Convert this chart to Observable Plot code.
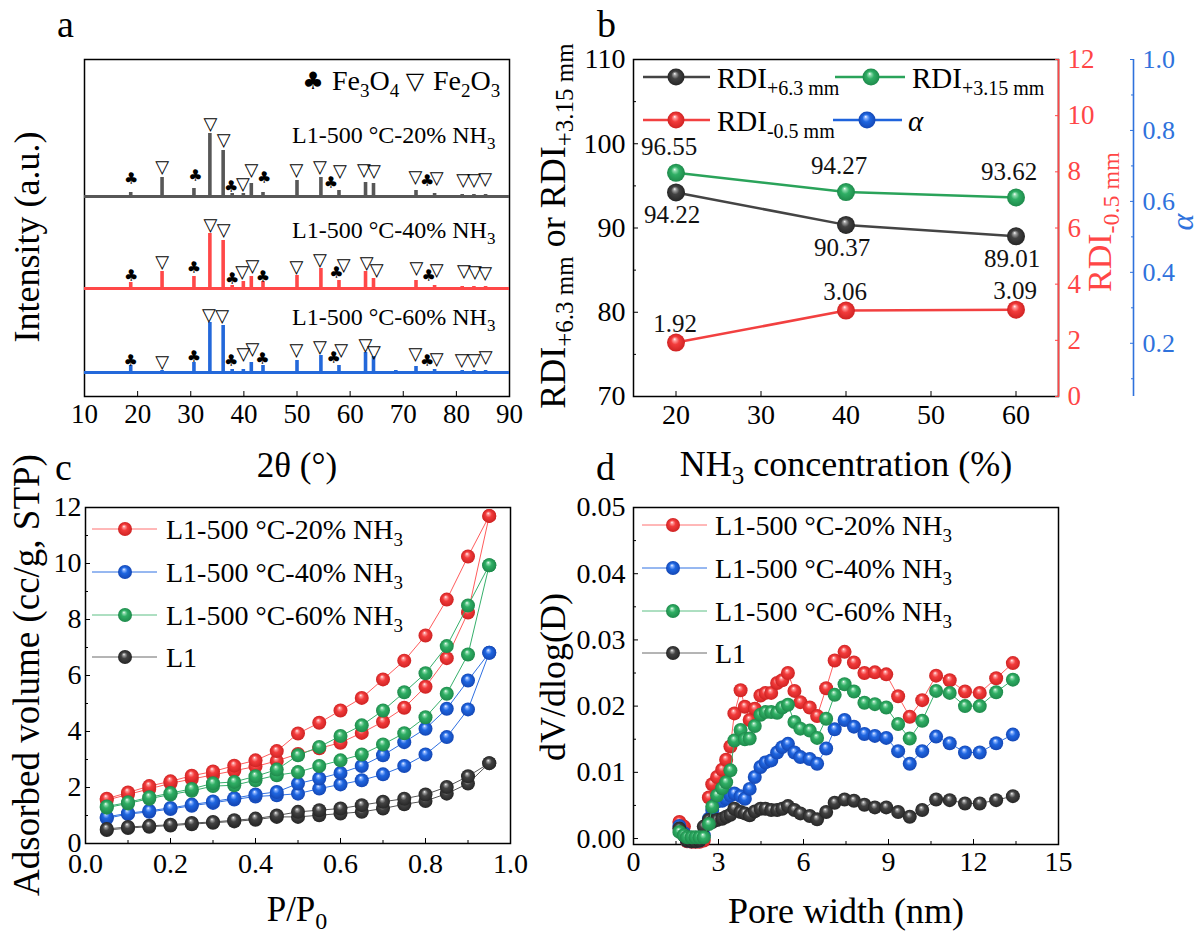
<!DOCTYPE html>
<html>
<head>
<meta charset="utf-8">
<script src="https://cdn.jsdelivr.net/npm/d3@7"></script>
<script src="https://cdn.jsdelivr.net/npm/@observablehq/plot@0.6"></script>
<style>
  html, body { margin: 0; padding: 0; background: #fff; }
  #fig { position: relative; width: 1199px; height: 938px; overflow: hidden; background: #fff; }
</style>
</head>
<body>
<div id="fig"></div>
<script>
// ================= DATA =================
// (a) XRD patterns (stacked, arbitrary units)
const xrdPeak2theta = [18.7, 24.6, 30.6, 33.6, 36.1, 37.8, 39.9, 41.4, 43.6, 50.0, 54.5, 57.9, 62.9, 64.4, 68.6, 72.4, 75.9, 81.1, 83.3, 85.5];
const xrd20Height = [4, 19, 8, 63, 46, 3, 3, 13, 4, 16, 19, 6, 14, 13, 1, 6, 3, 2, 2, 2];
const xrd40Height = [6, 17, 12, 55, 48, 3, 7, 12, 7, 13, 20, 8, 17, 10, 1, 8, 3, 2, 2, 2];
const xrd60Height = [7, 2, 10, 50, 47, 3, 3, 10, 7, 12, 17, 7, 20, 16, 2, 6, 3, 2, 2, 2];
const xrdBaseline = [200, 108, 24];
const xrdSampleNames = ["20", "40", "60"];
const phaseSymbols = ["♣","▽","♣","▽","▽","♣","▽","▽","♣","▽","▽","♣","▽","▽","▽","▽","♣","▽","▽","▽","▽"];
const phase20X = [18.8, 24.6, 30.9, 33.7, 36.2, 37.6, 39.8, 41.4, 43.8, 49.9, 54.3, 56.4, 58.1, 62.6, 64.5, 72.3, 74.5, 76.3, 81.3, 83.3, 85.4];
const phase20Y = [217.7, 229.3, 221, 272, 256, 210, 212.7, 226, 218.7, 226, 229.3, 213.3, 225.3, 226, 225.3, 219.3, 216, 218.7, 216.7, 216.7, 217.7];
const phase40X = [18.8, 24.6, 30.6, 33.7, 36.2, 37.8, 39.7, 41.6, 43.6, 49.9, 54.3, 57.4, 58.8, 63.1, 65.0, 72.5, 74.8, 76.3, 81.4, 83.5, 85.4];
const phase40Y = [121, 134.3, 128.7, 171, 166, 117.7, 124.3, 130, 120, 129.3, 136.7, 123.3, 131.7, 133.3, 126.7, 128.7, 121, 126, 125.3, 124.3, 123.3];
const phase60X = [18.7, 24.6, 30.6, 33.4, 35.9, 37.6, 39.9, 41.6, 43.5, 49.9, 54.3, 56.9, 58.3, 62.9, 64.5, 72.3, 74.5, 76.3, 81.0, 83.3, 85.5];
const phase60Y = [36, 34.3, 39.3, 81, 80, 36, 42, 47.7, 37.7, 46.7, 49.3, 38.7, 46, 51, 44.3, 42, 36, 37.7, 36, 36, 39.3];
const xrdTicks = [10, 20, 30, 40, 50, 60, 70, 80, 90];

// (b) RDI vs NH3 concentration
const nh3Conc = [20, 40, 60];
const rdiPlus63 = [94.22, 90.37, 89.01];
const rdiPlus315 = [96.55, 94.27, 93.62];
const rdiMinus05 = [1.92, 3.06, 3.09];
const bXTicks = [20, 30, 40, 50, 60];
const bLeftTicks = [70, 80, 90, 100, 110];
const bLeftMinor = [75, 85, 95, 105];
const bRedTicks = [0, 2, 4, 6, 8, 10, 12];
const bAlphaTicks = [0.2, 0.4, 0.6, 0.8, 1.0];
const bAlphaMinor = [0.1, 0.3, 0.5, 0.7, 0.9];

// (c) N2 adsorption isotherms
const relPressure = [0.05, 0.10, 0.15, 0.20, 0.25, 0.30, 0.35, 0.40, 0.45, 0.50, 0.55, 0.60, 0.65, 0.70, 0.75, 0.80, 0.85, 0.90, 0.95];
const ads20 = [1.55, 1.75, 1.95, 2.15, 2.30, 2.45, 2.60, 2.75, 2.95, 3.20, 3.40, 3.60, 3.95, 4.35, 4.85, 5.60, 6.62, 8.25, 11.70];
const des20 = [1.60, 1.82, 2.05, 2.22, 2.42, 2.57, 2.78, 2.97, 3.30, 3.93, 4.31, 4.75, 5.20, 5.86, 6.53, 7.43, 8.71, 10.25, 11.70];
const ads40 = [0.90, 1.05, 1.13, 1.23, 1.35, 1.45, 1.57, 1.68, 1.72, 1.78, 1.96, 2.11, 2.26, 2.47, 2.77, 3.18, 3.80, 4.79, 6.81];
const des40 = [0.95, 1.08, 1.17, 1.27, 1.39, 1.50, 1.62, 1.75, 1.84, 2.14, 2.32, 2.52, 2.77, 3.15, 3.62, 4.10, 4.81, 5.82, 6.81];
const ads60 = [1.28, 1.43, 1.60, 1.75, 1.88, 2.05, 2.08, 2.26, 2.44, 2.55, 2.77, 2.97, 3.18, 3.54, 3.94, 4.51, 5.35, 6.75, 9.94];
const des60 = [1.32, 1.47, 1.65, 1.80, 1.95, 2.15, 2.20, 2.40, 2.64, 3.15, 3.45, 3.84, 4.22, 4.75, 5.40, 6.08, 7.05, 8.50, 9.94];
const adsL1 = [0.48, 0.55, 0.60, 0.64, 0.69, 0.74, 0.79, 0.85, 0.95, 0.95, 1.01, 1.07, 1.13, 1.25, 1.40, 1.52, 1.78, 2.14, 2.87];
const desL1 = [0.52, 0.59, 0.63, 0.67, 0.73, 0.77, 0.83, 0.89, 1.00, 1.13, 1.19, 1.25, 1.37, 1.49, 1.60, 1.75, 2.02, 2.40, 2.87];
const cXTicks = [0, 0.2, 0.4, 0.6, 0.8, 1.0];
const cXMinor = [0.1, 0.3, 0.5, 0.7, 0.9];
const cYTicks = [0, 2, 4, 6, 8, 10, 12];
const cYMinor = [1, 3, 5, 7, 9, 11];

// (d) pore size distribution
const poreWidth = [1.62, 1.78, 1.89, 2.05, 2.19, 2.33, 2.48, 2.66, 2.78, 2.95, 3.13, 3.27, 3.42, 3.56, 3.78, 3.93, 4.10, 4.28, 4.48, 4.66, 4.86, 5.07, 5.25, 5.45, 5.68, 5.89, 6.22, 6.48, 6.80, 7.10, 7.45, 7.78, 8.15, 8.52, 8.92, 9.34, 9.75, 10.19, 10.68, 11.16, 11.70, 12.22, 12.80, 13.39];
const psd20 = [0.0025, 0.0018, -0.0004, -0.0005, -0.0005, -0.0005, -0.0003, 0.0062, 0.0082, 0.0093, 0.0104, 0.0119, 0.0139, 0.0189, 0.0224, 0.0199, 0.0179, 0.0196, 0.0216, 0.0220, 0.0220, 0.0235, 0.0239, 0.0250, 0.0223, 0.0206, 0.0198, 0.0185, 0.0227, 0.0269, 0.0282, 0.0266, 0.0250, 0.0251, 0.0248, 0.0215, 0.0184, 0.0209, 0.0246, 0.0239, 0.0222, 0.0220, 0.0242, 0.0265];
const psd40 = [0.0019, 0.0008, -0.0003, -0.0004, -0.0004, -0.0003, 0.0005, 0.0030, 0.0043, 0.0056, 0.0057, 0.0060, 0.0065, 0.0068, 0.0064, 0.0060, 0.0075, 0.0093, 0.0108, 0.0115, 0.0118, 0.0130, 0.0138, 0.0143, 0.0130, 0.0123, 0.0120, 0.0113, 0.0136, 0.0165, 0.0179, 0.0169, 0.0158, 0.0155, 0.0152, 0.0132, 0.0113, 0.0132, 0.0154, 0.0144, 0.0130, 0.0130, 0.0144, 0.0157];
const psd60 = [0.0010, 0.0005, 0.0002, 0.0002, 0.0002, 0.0002, 0.0002, 0.0022, 0.0048, 0.0065, 0.0076, 0.0085, 0.0103, 0.0148, 0.0164, 0.0150, 0.0151, 0.0170, 0.0187, 0.0191, 0.0191, 0.0190, 0.0198, 0.0202, 0.0176, 0.0166, 0.0163, 0.0152, 0.0181, 0.0217, 0.0233, 0.0222, 0.0205, 0.0203, 0.0198, 0.0173, 0.0151, 0.0178, 0.0223, 0.0220, 0.0200, 0.0200, 0.0221, 0.0240];
const psdL1 = [0.0015, 0.0005, -0.0003, -0.0004, -0.0004, -0.0003, 0.0018, 0.0028, 0.0025, 0.0028, 0.0030, 0.0033, 0.0036, 0.0045, 0.0040, 0.0038, 0.0035, 0.0041, 0.0045, 0.0045, 0.0043, 0.0043, 0.0045, 0.0049, 0.0043, 0.0038, 0.0034, 0.0029, 0.0040, 0.0054, 0.0059, 0.0057, 0.0051, 0.0047, 0.0047, 0.0040, 0.0033, 0.0043, 0.0059, 0.0058, 0.0053, 0.0053, 0.0058, 0.0064];
const dXTicks = [0, 3, 6, 9, 12, 15];
const dXMinor = [1.5, 4.5, 7.5, 10.5, 13.5];
const dYTicks = [0, 0.01, 0.02, 0.03, 0.04, 0.05];
const dYMinor = [0.005, 0.015, 0.025, 0.035, 0.045];

// ================= STYLE =================
const F = '"Liberation Serif","Times New Roman",serif';
const SYM = '"DejaVu Sans",sans-serif';
const RED_AX = "#ff4646", BLUE_AX = "#2f72dc";
const fig = document.getElementById("fig");

// sphere gradients
const defs = d3.select(fig).append("svg").attr("width", 0).attr("height", 0)
  .style("position", "absolute").append("defs");
function ballGrad(id, hi, mid, edge) {
  const g = defs.append("radialGradient").attr("id", id)
    .attr("cx", "50%").attr("cy", "50%").attr("r", "50%").attr("fx", "42%").attr("fy", "30%");
  g.append("stop").attr("offset", "0%").attr("stop-color", "#ffffff");
  g.append("stop").attr("offset", "16%").attr("stop-color", hi);
  g.append("stop").attr("offset", "45%").attr("stop-color", mid);
  g.append("stop").attr("offset", "100%").attr("stop-color", edge);
}
ballGrad("ball-red", "#ff9a9a", "#f23b3b", "#cf2323");
ballGrad("ball-green", "#8fdcae", "#2fae64", "#1e8a4b");
ballGrad("ball-blue", "#8ab3ff", "#1f66e0", "#1447b5");
ballGrad("ball-dark", "#a0a0a0", "#424242", "#262626");

function mount(svg, left, top) {
  svg.style.position = "absolute";
  svg.style.left = left + "px";
  svg.style.top = top + "px";
  svg.style.maxWidth = "none";
  svg.style.background = "transparent";
  svg.style.overflow = "visible";
  fig.appendChild(svg);
}
const baseStyle = {fontFamily: F, fontSize: "27px", color: "#000", background: "transparent", overflow: "visible"};

// ================= PANEL A =================
{
  const series = [
    {h: xrd20Height, base: xrdBaseline[0], color: "#575757", mx: phase20X, my: phase20Y},
    {h: xrd40Height, base: xrdBaseline[1], color: "#ff4848", mx: phase40X, my: phase40Y},
    {h: xrd60Height, base: xrdBaseline[2], color: "#2368da", mx: phase60X, my: phase60Y}
  ];
  const marks = [Plot.frame({stroke: "#000", strokeWidth: 1.5})];
  for (const s of series) {
    marks.push(Plot.ruleY([s.base], {stroke: s.color, strokeWidth: 3}));
    marks.push(Plot.ruleX(xrdPeak2theta.map((x, i) => ({x, y1: s.base, y2: s.base + s.h[i]})),
      {x: "x", y1: "y1", y2: "y2", stroke: s.color, strokeWidth: 3.6}));
  }
  for (const s of series) {
    marks.push(Plot.text(phaseSymbols.map((t, i) => ({t, x: s.mx[i], y: s.my[i]})),
      {x: "x", y: "y", text: "t", fontFamily: SYM, fontSize: d => d.t === "▽" ? 18 : 16, fill: "#000", lineAnchor: "middle"}));
  }
  marks.push(Plot.axisX({ticks: xrdTicks, tickSize: -5, tickPadding: 12, label: null, fontSize: 27, tickFormat: d => String(d)}));
  const svg = Plot.plot({
    width: 540, height: 440, marginLeft: 84, marginRight: 31, marginTop: 59, marginBottom: 44,
    x: {domain: [10, 90], label: null},
    y: {domain: [0, 337], label: null, axis: null},
    style: baseStyle,
    marks
  });
  mount(svg, 0, 0);
}

// ================= PANEL B =================
{
  const r2l = d3.scaleLinear([0, 12], [70, 110]);
  const a2l = d3.scaleLinear([0.05, 1], [70, 110]);
  const black = nh3Conc.map((c, i) => ({c, v: rdiPlus63[i], t: rdiPlus63[i].toFixed(2)}));
  const green = nh3Conc.map((c, i) => ({c, v: rdiPlus315[i], t: rdiPlus315[i].toFixed(2)}));
  const red = nh3Conc.map((c, i) => ({c, v: r2l(rdiMinus05[i]), t: rdiMinus05[i].toFixed(2)}));
  const svg = Plot.plot({
    width: 639, height: 440, marginLeft: 73, marginRight: 141, marginTop: 59, marginBottom: 44,
    x: {domain: [15, 65], label: null},
    y: {domain: [70, 110], label: null},
    style: baseStyle,
    marks: [
      Plot.frame({stroke: "#000", strokeWidth: 1.5}),
      Plot.ruleX([65], {stroke: RED_AX, strokeWidth: 1.6}),
      Plot.ruleX([65], {dx: 75, stroke: BLUE_AX, strokeWidth: 1.6}),
      Plot.axisX({ticks: bXTicks, tickSize: -5, tickPadding: 13, label: null, fontSize: 28, tickFormat: d => String(d)}),
      Plot.axisY({ticks: bLeftTicks, tickSize: -5, tickPadding: 13, label: null, fontSize: 28, tickFormat: d => String(d)}),
      Plot.axisY({ticks: bLeftMinor, tickSize: -3, label: null, tickFormat: () => ""}),
      Plot.axisY({anchor: "right", ticks: bRedTicks.map(r2l), tickSize: -4, tickPadding: 13, label: null, fontSize: 27,
        color: RED_AX, tickFormat: d => String(Math.round(r2l.invert(d)))}),
      Plot.axisY({anchor: "right", dx: 75, ticks: bAlphaTicks.map(a2l), tickSize: -4, tickPadding: 13, label: null, fontSize: 26,
        color: BLUE_AX, tickFormat: d => a2l.invert(d).toFixed(1)}),
      Plot.axisY({anchor: "right", dx: 75, ticks: bAlphaMinor.map(a2l), tickSize: -3, label: null,
        color: BLUE_AX, tickFormat: () => ""}),
      Plot.line(black, {x: "c", y: "v", stroke: "#444", strokeWidth: 2.5}),
      Plot.line(green, {x: "c", y: "v", stroke: "#2aa35a", strokeWidth: 2.5}),
      Plot.line(red, {x: "c", y: "v", stroke: "#f24040", strokeWidth: 2.5}),
      Plot.dot(black, {x: "c", y: "v", r: 9, fill: "url(#ball-dark)"}),
      Plot.dot(green, {x: "c", y: "v", r: 9, fill: "url(#ball-green)"}),
      Plot.dot(red, {x: "c", y: "v", r: 9, fill: "url(#ball-red)"}),
      Plot.text(green, {x: "c", y: "v", text: "t", dx: -7, dy: -26, fontSize: 25, fill: "#111", lineAnchor: "middle"}),
      Plot.text(black, {x: "c", y: "v", text: "t", dx: -4, dy: 23, fontSize: 25, fill: "#111", lineAnchor: "middle"}),
      Plot.text(red, {x: "c", y: "v", text: "t", dx: -1, dy: -19, fontSize: 25, fill: "#111", lineAnchor: "middle"})
    ]
  });
  mount(svg, 560, 0);
}

// ================= PANEL C =================
{
  const series = [
    {ads: ads20, des: des20, line: "#ff5c5c", ball: "url(#ball-red)"},
    {ads: ads40, des: des40, line: "#2f70e2", ball: "url(#ball-blue)"},
    {ads: ads60, des: des60, line: "#36b06b", ball: "url(#ball-green)"},
    {ads: adsL1, des: desL1, line: "#555555", ball: "url(#ball-dark)"}
  ];
  const marks = [Plot.frame({stroke: "#000", strokeWidth: 1.5})];
  for (const s of series) {
    const a = relPressure.map((p, i) => ({p, v: s.ads[i]}));
    const d = relPressure.map((p, i) => ({p, v: s.des[i]}));
    marks.push(Plot.line(a, {x: "p", y: "v", stroke: s.line, strokeWidth: 1}));
    marks.push(Plot.line(d, {x: "p", y: "v", stroke: s.line, strokeWidth: 1}));
    marks.push(Plot.dot(a, {x: "p", y: "v", r: 7, fill: s.ball}));
    marks.push(Plot.dot(d, {x: "p", y: "v", r: 7, fill: s.ball}));
  }
  marks.push(Plot.axisX({ticks: cXTicks, tickSize: -5, tickPadding: 15, label: null, fontSize: 28, tickFormat: d3.format(".1f")}));
  marks.push(Plot.axisX({ticks: cXMinor, tickSize: -3, label: null, tickFormat: () => ""}));
  marks.push(Plot.axisY({ticks: cYTicks, tickSize: -5, tickPadding: 9, label: null, fontSize: 28, tickFormat: d => String(d)}));
  marks.push(Plot.axisY({ticks: cYMinor, tickSize: -3, label: null, tickFormat: () => ""}));
  const svg = Plot.plot({
    width: 540, height: 430, marginLeft: 85, marginRight: 30, marginTop: 37, marginBottom: 57,
    x: {domain: [0, 1], label: null},
    y: {domain: [0, 12], label: null},
    style: baseStyle,
    marks
  });
  mount(svg, 0, 470);
}

// ================= PANEL D =================
{
  const series = [
    {v: psd20, line: "#ff6060", ball: "url(#ball-red)"},
    {v: psd40, line: "#2f70e2", ball: "url(#ball-blue)"},
    {v: psdL1, line: "#555555", ball: "url(#ball-dark)"},
    {v: psd60, line: "#36b06b", ball: "url(#ball-green)"}
  ];
  const marks = [Plot.frame({stroke: "#000", strokeWidth: 1.5})];
  for (const s of series) {
    const data = poreWidth.map((w, i) => ({w, v: s.v[i]}));
    marks.push(Plot.line(data, {x: "w", y: "v", stroke: s.line, strokeWidth: 1}));
    marks.push(Plot.dot(data, {x: "w", y: "v", r: 7, fill: s.ball}));
  }
  marks.push(Plot.axisX({ticks: dXTicks, tickSize: -5, tickPadding: 12, label: null, fontSize: 28, tickFormat: d => String(d)}));
  marks.push(Plot.axisX({ticks: dXMinor, tickSize: -3, label: null, tickFormat: () => ""}));
  marks.push(Plot.axisY({ticks: dYTicks, tickSize: -5, tickPadding: 13, label: null, fontSize: 28, tickFormat: d3.format(".2f")}));
  marks.push(Plot.axisY({ticks: dYMinor, tickSize: -3, label: null, tickFormat: () => ""}));
  const svg = Plot.plot({
    width: 639, height: 430, marginLeft: 73, marginRight: 141, marginTop: 37, marginBottom: 56,
    x: {domain: [0, 15], label: null},
    y: {domain: [-0.0009, 0.05], label: null},
    style: baseStyle,
    marks
  });
  mount(svg, 560, 470);
}

// ================= TITLES, LEGENDS, LABELS =================
const ov = d3.select(fig).append("svg").attr("width", 1199).attr("height", 938)
  .style("position", "absolute").style("left", "0px").style("top", "0px")
  .style("font-family", F).style("pointer-events", "none");

function rich(parent, parts, size, o = {}) {
  const subSize = o.subSize ?? Math.round(size * 0.68);
  const subShift = o.subShift ?? Math.round(size * 0.24);
  const t = parent.append("text").attr("font-size", size).attr("fill", o.fill || "#000")
    .attr("x", o.x || 0).attr("y", o.y || 0).style("white-space", "pre");
  if (o.anchor) t.attr("text-anchor", o.anchor);
  if (o.family) t.attr("font-family", o.family);
  let cur = 0;
  for (const p of parts) {
    const isSub = typeof p === "object" && p.sub !== undefined;
    const isIt = typeof p === "object" && p.it !== undefined;
    const str = typeof p === "string" ? p : (isSub ? p.sub : p.it);
    const ts = t.append("tspan").text(str);
    const target = isSub ? subShift : 0;
    if (target !== cur) ts.attr("dy", target - cur);
    cur = target;
    if (isSub) ts.attr("font-size", subSize);
    if (isIt) ts.attr("font-style", "italic");
  }
  return t;
}
function rotated(cx, cy, parts, size, o = {}) {
  const g = ov.append("g").attr("transform", `translate(${cx},${cy}) rotate(-90)`);
  return rich(g, parts, size, Object.assign({anchor: "middle", y: size * 0.33}, o));
}

// panel letters
rich(ov, ["a"], 38, {x: 57, y: 37});
rich(ov, ["b"], 38, {x: 597, y: 37});
rich(ov, ["c"], 38, {x: 55, y: 480});
rich(ov, ["d"], 38, {x: 596, y: 480});

// axis titles
rotated(27, 237, ["Intensity (a.u.)"], 36);
rich(ov, ["2θ (°)"], 35, {x: 297, y: 477, anchor: "middle"});
rotated(553, 226, ["RDI", {sub: "+6.3 mm"}, " or RDI", {sub: "+3.15 mm"}], 36, {subSize: 25, subShift: 8});
rotated(1100, 222, ["RDI", {sub: "-0.5 mm"}], 34, {fill: RED_AX, subSize: 24, subShift: 8});
rotated(1182, 222, [{it: "α"}], 32, {fill: BLUE_AX});
rich(ov, ["NH", {sub: "3"}, " concentration (%)"], 36, {x: 846, y: 476, anchor: "middle", subSize: 25, subShift: 8});
rotated(27, 675, ["Adsorbed volume (cc/g, STP)"], 37);
rich(ov, ["P/P", {sub: "0"}], 35, {x: 297, y: 921, anchor: "middle", subSize: 24, subShift: 8});
rotated(553, 677, ["dV/dlog(D)"], 36);
rich(ov, ["Pore width (nm)"], 36, {x: 846, y: 923, anchor: "middle"});

// panel a legend and sample labels
rich(ov, ["♣"], 24, {x: 313, y: 89, anchor: "middle", family: SYM});
rich(ov, ["Fe", {sub: "3"}, "O", {sub: "4"}], 28, {x: 332, y: 90, subSize: 19, subShift: 7});
rich(ov, ["▽"], 24, {x: 415, y: 89, anchor: "middle", family: SYM});
rich(ov, ["Fe", {sub: "2"}, "O", {sub: "3"}], 28, {x: 433, y: 90, subSize: 19, subShift: 7});
const sampleBase = [143, 238, 325];
xrdSampleNames.forEach((n, i) => {
  rich(ov, [`L1-500 °C-${n}% NH`, {sub: "3"}], 24, {x: 292, y: sampleBase[i], subSize: 17, subShift: 6});
});

// legend swatch helper
function swatch(x1, x2, cx, cy, color, grad, w, r) {
  ov.append("line").attr("x1", x1).attr("x2", x2).attr("y1", cy).attr("y2", cy)
    .attr("stroke", color).attr("stroke-width", w);
  ov.append("circle").attr("cx", cx).attr("cy", cy).attr("r", r).attr("fill", `url(#${grad})`);
}

// panel b legend
swatch(643, 710, 676, 77, "#444", "ball-dark", 2.5, 8.5);
rich(ov, ["RDI", {sub: "+6.3 mm"}], 29, {x: 717, y: 88, subSize: 20, subShift: 7});
swatch(835, 905, 871, 77, "#2aa35a", "ball-green", 2.5, 8.5);
rich(ov, ["RDI", {sub: "+3.15 mm"}], 29, {x: 912, y: 88, subSize: 20, subShift: 7});
swatch(643, 710, 676, 120, "#f24040", "ball-red", 2.5, 8.5);
rich(ov, ["RDI", {sub: "-0.5 mm"}], 29, {x: 717, y: 131, subSize: 20, subShift: 7});
swatch(833, 902, 867, 120, "#1f63dc", "ball-blue", 2.5, 8.5);
rich(ov, [{it: "α"}], 29, {x: 908, y: 131});

// panel c & d legends
const legNames = [["L1-500 °C-20% NH", {sub: "3"}], ["L1-500 °C-40% NH", {sub: "3"}], ["L1-500 °C-60% NH", {sub: "3"}], ["L1"]];
const legLine = ["#ff7070", "#2f70e2", "#5cbf84", "#6a6a6a"];
const legBall = ["ball-red", "ball-blue", "ball-green", "ball-dark"];
const cRows = [529, 572, 615, 657];
const dRows = [525, 568, 611, 653];
legNames.forEach((n, i) => {
  swatch(92, 157, 125, cRows[i], legLine[i], legBall[i], 1, 7);
  rich(ov, n, 28, {x: 166, y: cRows[i] + 10, subSize: 19, subShift: 7});
  swatch(642, 707, 673, dRows[i], legLine[i], legBall[i], 1, 7);
  rich(ov, n, 28, {x: 715, y: dRows[i] + 10, subSize: 19, subShift: 7});
});
</script>
</body>
</html>
